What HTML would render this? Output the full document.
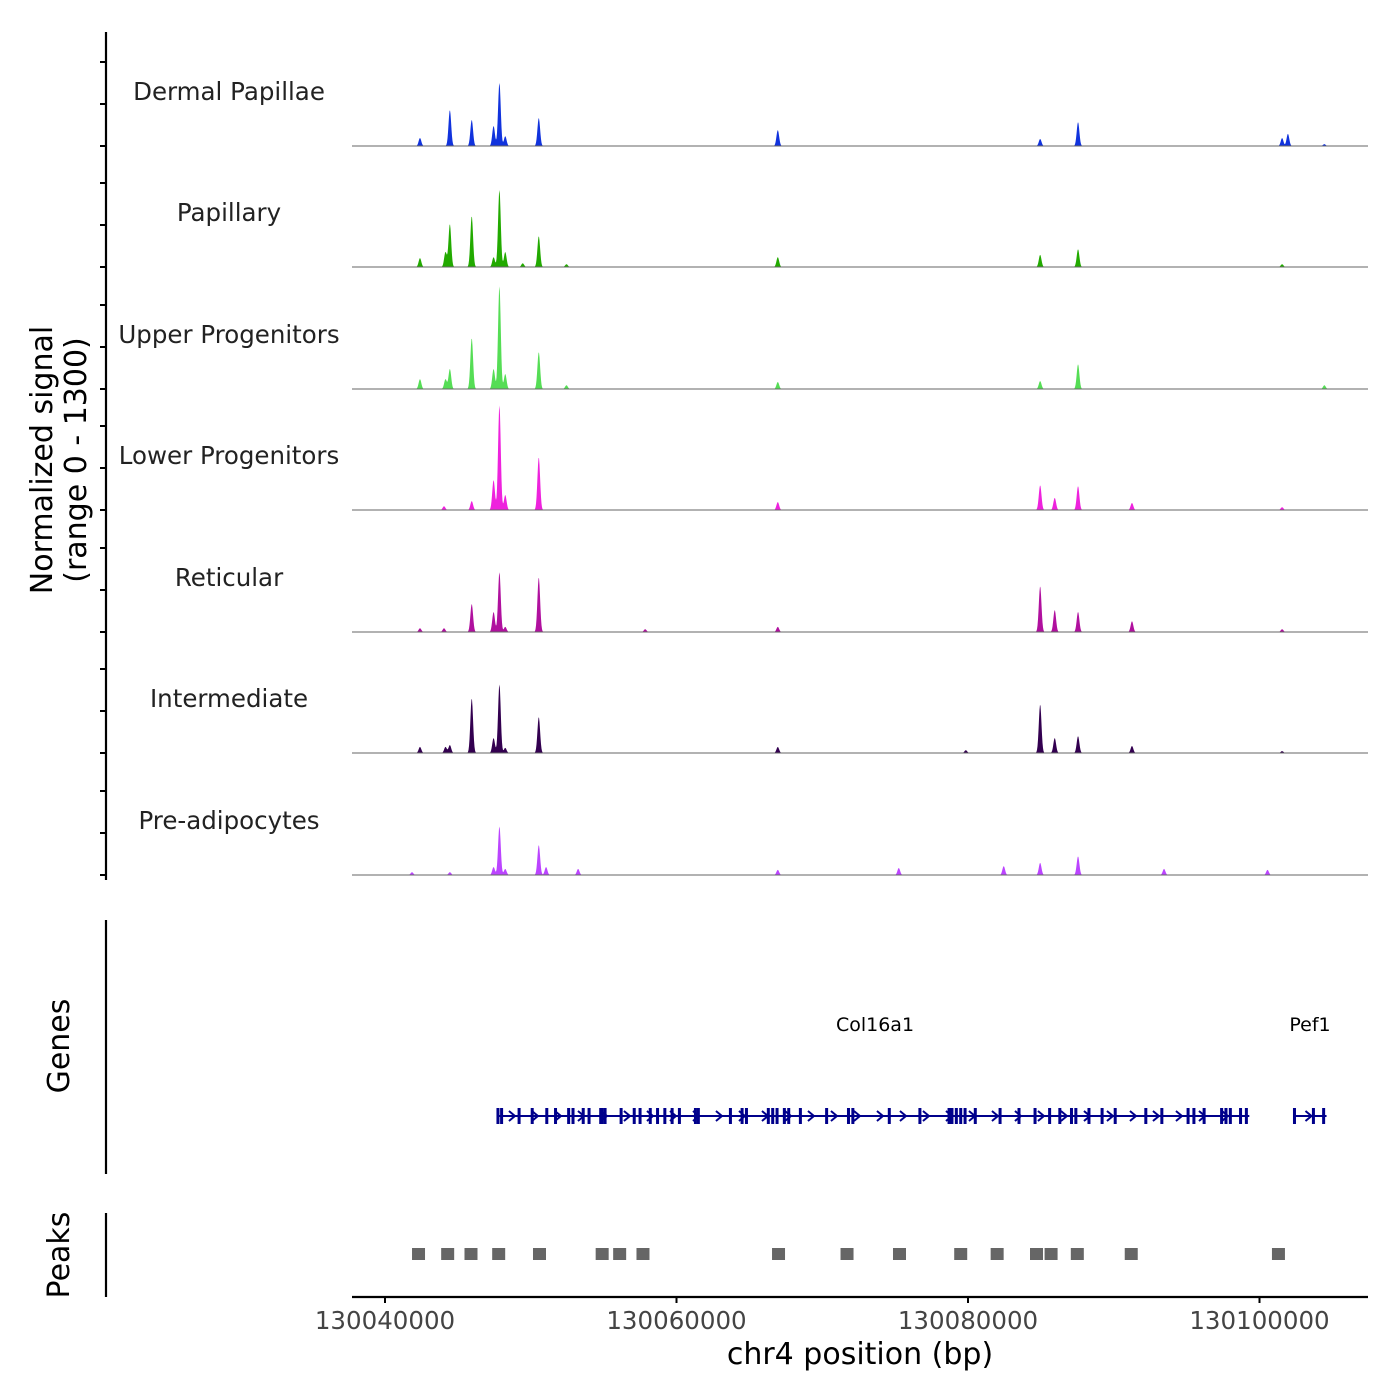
<!DOCTYPE html>
<html><head><meta charset="utf-8"><style>
html,body{margin:0;padding:0;background:#fff;}
svg{display:block;font-family:"DejaVu Sans","Liberation Sans",sans-serif;}
</style></head><body>
<svg id="chart" width="1400" height="1400" viewBox="0 0 1400 1400">
<g id="tracks"></g>
<g id="leftaxis"></g>
<text x="52" y="460" transform="rotate(-90 52 460)" text-anchor="middle" font-size="30" fill="#000">Normalized signal</text>
<text x="86" y="460" transform="rotate(-90 86 460)" text-anchor="middle" font-size="30" fill="#000">(range 0 - 1300)</text>
<line x1="106" y1="920" x2="106" y2="1174" stroke="#000" stroke-width="2.2"/>
<text x="69" y="1046" transform="rotate(-90 69 1046)" text-anchor="middle" font-size="30">Genes</text>
<line x1="106" y1="1213" x2="106" y2="1297" stroke="#000" stroke-width="2.2"/>
<text x="69" y="1255" transform="rotate(-90 69 1255)" text-anchor="middle" font-size="30">Peaks</text>
<g id="genes"></g>
<text x="875" y="1031" text-anchor="middle" font-size="19">Col16a1</text>
<text x="1310" y="1031" text-anchor="middle" font-size="19">Pef1</text>
<g id="peaks"></g>
<g id="xaxis"></g>
<text x="860" y="1364" text-anchor="middle" font-size="30">chr4 position (bp)</text>
</svg>
<script>
// ---- data ----
const trackNames = ["Dermal Papillae","Papillary","Upper Progenitors","Lower Progenitors","Reticular","Intermediate","Pre-adipocytes"];
const trackColors = ["#1133dd","#22aa00","#55dd55","#ee22dd","#b0109e","#330050","#bb44ff"];
const xTicks = [130040000,130060000,130080000,130100000];
const sigDP = [[130042400,85],[130044450,385],[130045950,280],[130047450,215],[130047850,675],[130048250,105],[130050550,300],[130066950,170],[130084950,75],[130087550,255],[130101550,85],[130101950,130],[130104450,20]];
const sigPap = [[130042400,95],[130044150,160],[130044450,460],[130045950,545],[130047450,105],[130047850,825],[130048250,160],[130049450,40],[130050550,330],[130052450,30],[130066950,105],[130084950,130],[130087550,190],[130101550,30]];
const sigUp = [[130042400,105],[130044150,105],[130044450,215],[130045950,545],[130047450,215],[130047850,1100],[130048250,160],[130050550,395],[130052450,40],[130066950,75],[130084950,85],[130087550,265],[130104450,40]];
const sigLow = [[130044050,40],[130045950,95],[130047450,320],[130047850,1120],[130048250,160],[130050550,565],[130066950,85],[130084950,265],[130085950,130],[130087550,255],[130091250,75],[130101550,30]];
const sigRet = [[130042400,40],[130044050,40],[130045950,300],[130047450,215],[130047850,640],[130048250,55],[130050550,585],[130057850,30],[130066950,55],[130084950,490],[130085950,235],[130087550,215],[130091250,115],[130101550,30]];
const sigInt = [[130042400,65],[130044150,65],[130044450,85],[130045950,585],[130047450,160],[130047850,735],[130048250,55],[130050550,385],[130066950,65],[130079850,30],[130084950,520],[130085950,160],[130087550,180],[130091250,75],[130101550,20]];
const sigPre = [[130041850,30],[130044450,30],[130047450,85],[130047850,520],[130048250,65],[130050550,320],[130051050,85],[130053250,65],[130066950,55],[130075250,75],[130082450,95],[130084950,130],[130087550,200],[130093450,65],[130100550,55]];
const signals = [sigDP,sigPap,sigUp,sigLow,sigRet,sigInt,sigPre];
const peakStarts = [130042300,130044300,130045900,130047800,130050600,130054900,130056100,130057700,130067000,130071700,130075300,130079500,130082000,130084700,130085700,130087500,130091200,130101300];
const col16Exons = [130047750,130048000,130049200,130050100,130051100,130051700,130052600,130052900,130053600,130054000,130054800,130054900,130055100,130056200,130057100,130057500,130058200,130058700,130059200,130059700,130060200,130061300,130061500,130063700,130064500,130064800,130066300,130066600,130066900,130067400,130067700,130068500,130070300,130071800,130072100,130074600,130076700,130078700,130078900,130079200,130079500,130079800,130080500,130082200,130083500,130084600,130085600,130086300,130087100,130087400,130088300,130089200,130090100,130092200,130093300,130095100,130095500,130096200,130097400,130097700,130098000,130098700,130099100];
const pef1Exons = [130102400,130103700,130104400];
// ---- scales ----
const X0=130040000, PX0=385, PXPER=291.5/20000;
function xs(bp){return PX0+(bp-X0)*PXPER;}
const baselines=[146,267,389,510,632,753,875], trackH=121.5;
function ys(i,v){return baselines[i]-v/1300*trackH;}
const NS="http://www.w3.org/2000/svg";
function mk(tag,attrs,parent){const e=document.createElementNS(NS,tag);for(const k in attrs)e.setAttribute(k,attrs[k]);parent.appendChild(e);return e;}
const tracksG=document.getElementById('tracks');
signals.forEach((sig,i)=>{
  let d=`M352,${baselines[i]}`;
  for(let px=352;px<=1368;px+=0.5){
    const bp=X0+(px-PX0)/PXPER;let v=0;
    sig.forEach(p=>{const dx=(bp-p[0])/130;v+=p[1]*Math.exp(-dx*dx);});
    d+=` L${px},${ys(i,v).toFixed(2)}`;
  }
  d+=` L1368,${baselines[i]} Z`;
  const path=mk('path',{d:d,fill:trackColors[i]},tracksG);
  
  
  const bl=mk('line',{x1:352,x2:1368,y1:baselines[i],y2:baselines[i],stroke:'#666','stroke-width':1},tracksG);
  
  
  const t=mk('text',{x:229,y:baselines[i]-46,'text-anchor':'middle','font-size':24.5,fill:'#222'},tracksG);
  t.textContent=trackNames[i];
  
  
});
const la=document.getElementById('leftaxis');
mk('line',{x1:106,x2:106,y1:32,y2:880,stroke:'#000','stroke-width':2.2},la);
baselines.forEach(b=>{[0,42,84].forEach(o=>{
  const tk=mk('line',{x1:100,x2:106,y1:b-o,y2:b-o,stroke:'#000','stroke-width':2},la);
  
  
});});
const gg=document.getElementById('genes');const gy=1116;
function gene(start,end,exons,name){
  mk('line',{x1:xs(start),x2:xs(end),y1:gy,y2:gy,stroke:'#00008b','stroke-width':2},gg);
  for(let px=xs(start)+14;px<xs(end)-6;px+=23){
    const a=mk('path',{d:`M${px-3},${gy-5} L${px+3},${gy} L${px-3},${gy+5}`,fill:'none',stroke:'#00008b','stroke-width':2},gg);
    
    
  }
  exons.forEach(e=>{
    const r=mk('rect',{x:xs(e)-1.5,y:gy-8,width:3,height:16,fill:'#00008b'},gg);
    
    
  });
}
gene(130047750,130099300,col16Exons,'col16a1');
gene(130102400,130104600,pef1Exons,'pef1');
const pg=document.getElementById('peaks');
peakStarts.forEach(p=>{
  const r=mk('rect',{x:xs(p)-6.5,y:1248,width:13,height:12,fill:'#666'},pg);
  
  
});
const xa=document.getElementById('xaxis');
mk('line',{x1:352,x2:1368,y1:1297,y2:1297,stroke:'#000','stroke-width':2.2},xa);
xTicks.forEach(t=>{
  mk('line',{x1:xs(t),x2:xs(t),y1:1297,y2:1303,stroke:'#000','stroke-width':2},xa);
  const tx=mk('text',{x:xs(t),y:1329,'text-anchor':'middle','font-size':24.5,fill:'#444'},xa);
  tx.textContent=t;
  
  
});
</script>
</body></html>
